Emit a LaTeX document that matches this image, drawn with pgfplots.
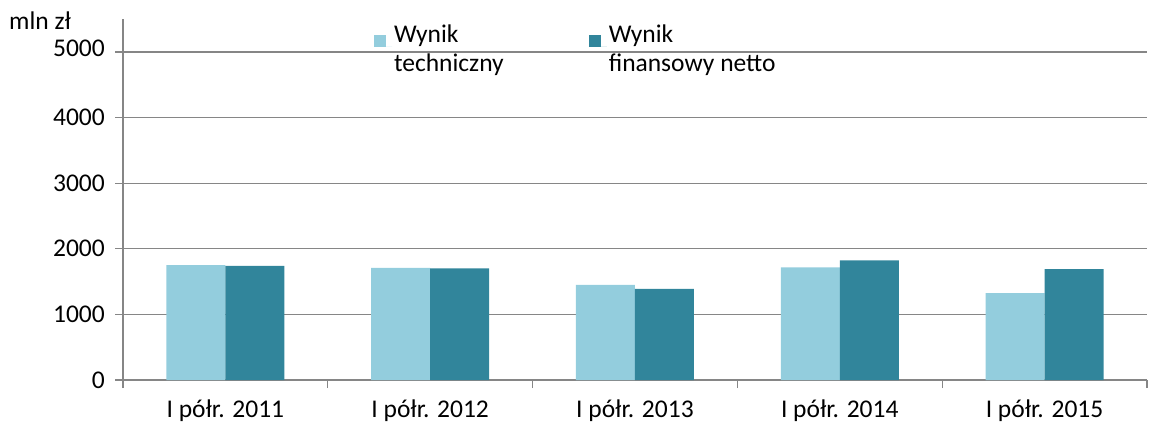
\documentclass[border=0pt]{standalone}
\usepackage{fontspec}
\setmainfont{Carlito}
\usepackage{pgfplots}
\pgfplotsset{compat=1.18}
\definecolor{lightb}{RGB}{147,205,221}
\definecolor{darkb}{RGB}{49,133,155}
\definecolor{gridc}{RGB}{134,134,134}
\begin{document}
\fontsize{25.5}{30}\selectfont
\begin{tikzpicture}
\useasboundingbox (0,0) rectangle (1149pt,426pt);
\begin{axis}[
  at={(123pt,46pt)}, anchor=south west,
  scale only axis, width=1024pt, height=360.8pt,
  xmin=-0.5, xmax=4.5, ymin=0, ymax=5500,
  ybar=0pt, bar width=59pt,
  axis lines*=left,
  axis line style={gridc, line width=1.3pt},
  ymajorgrids, grid style={gridc, line width=1.3pt},
  ytick={0,1000,...,4000},
  extra y ticks={5000},
  extra y tick style={yticklabel style={yshift=4pt}},
  xtick={-0.5,0.5,...,4.5}, xticklabels={},
  extra x ticks={0,1,2,3,4},
  extra x tick labels={I półr. 2011,I półr. 2012,I półr. 2013,I półr. 2014,I półr. 2015},
  extra x tick style={major tick length=0pt, xticklabel style={yshift=-11pt}},
  tick align=outside, major tick length=8pt,
  tick style={gridc, line width=1.3pt},
  /pgf/number format/assume math mode=true,
  /pgf/number format/1000 sep={},
  tick label style={font=\fontsize{25.5}{30}\selectfont, text=black},
  yticklabel style={xshift=-9pt, inner sep=1pt},
  legend columns=2,
  legend cell align=left,
  legend style={at={(rel axis cs:0.245,1)}, anchor=north west, draw=none, fill=none,
    inner sep=0pt, yshift=-3pt, font=\fontsize{25.5}{29.5}\selectfont,
    nodes={align=left, inner sep=2pt},
    /tikz/every even column/.append style={column sep=83pt}},
  legend image code/.code={\fill[#1,draw=none] (0pt,3pt) rectangle (12pt,15pt); \path (0pt,3pt) -- (18pt,3pt);},
]
\addplot[fill=lightb, draw=none] coordinates {(0,1750) (1,1710) (2,1450) (3,1715) (4,1325)};
\addplot[fill=darkb, draw=none] coordinates {(0,1740) (1,1700) (2,1390) (3,1825) (4,1690)};
\legend{Wynik\\techniczny, Wynik\\finansowy netto}
\end{axis}
\node[anchor=base west, inner sep=0pt] at (9pt,396pt) {mln zł};
\end{tikzpicture}
\end{document}
